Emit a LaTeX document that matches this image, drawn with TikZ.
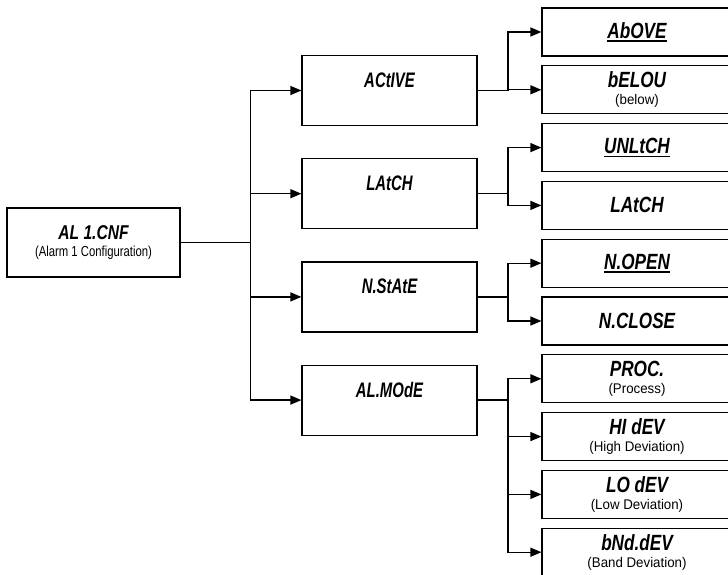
\documentclass[tikz,border=0pt]{standalone}
\usepackage{fontspec}
\setmainfont{Liberation Sans}
\newfontfamily\narrowfont[FakeStretch=0.78]{Liberation Sans}
\newfontfamily\menufont[FakeStretch=0.71]{Liberation Sans}
\newfontfamily\notefont[FakeStretch=0.95]{Liberation Sans}
\usetikzlibrary{positioning, arrows.meta}

\newcommand{\rootttl}[1]{{\narrowfont\fontsize{20}{20}\selectfont\bfseries\itshape #1}}
\newcommand{\ttl}[1]{{\narrowfont\fontsize{22}{22}\selectfont\bfseries\itshape #1}}
\newcommand{\dflt}[1]{\leavevmode\vtop{\hbox{#1}\kern2pt\hrule height 1.2pt}}

\begin{document}
\begin{tikzpicture}[
    x=1pt, y=-1pt,
    >={Triangle[length=11pt, width=9pt]},
    root/.style={draw, line width=1.2pt, minimum width=173pt, minimum height=69pt, inner sep=0pt, align=center,
        font=\narrowfont\fontsize{14.5}{17.6}\selectfont},
    menu/.style={draw, line width=1.2pt, minimum width=175pt, minimum height=70pt, inner sep=0pt, align=center,
        font=\menufont\fontsize{21}{21}\selectfont\bfseries\itshape, text height=14pt, text depth=20pt},
    option/.style={draw, line width=1.2pt, minimum width=190pt, minimum height=48pt, inner sep=0pt, align=center,
        font=\notefont\fontsize{14}{17}\selectfont},
    link/.style={line width=1.3pt}
]
    \useasboundingbox (0,0) rectangle (728,575);
    \clip (0,0) rectangle (728,575);

    % --- CONFIGURATION ROOT ---
    \node[root] (al_cnf) at (93.5,242.5) {\rootttl{AL 1.CNF}\\(Alarm 1 Configuration)};

    % --- SUB-MENUS ---
    \node[menu] (active) at (389.5,90.5) {ACtIVE};
    \node[menu, below=32pt of active] (latch) {LAtCH};
    \node[menu, below=32pt of latch] (n_state) {N.StAtE};
    \node[menu, below=32pt of n_state] (al_mode) {AL.MOdE};

    % --- OPTIONS (default underlined) ---
    \node[option] (opt_above) at (637,32) {\ttl{\dflt{AbOVE}}};
    \node[option, below=8.6pt of opt_above] (opt_below) {\ttl{bELOU}\\(below)};
    \node[option, below=8.6pt of opt_below] (opt_unlatch) {\ttl{\dflt{UNLtCH}}};
    \node[option, below=8.6pt of opt_unlatch] (opt_latch) {\ttl{LAtCH}};
    \node[option, below=8.6pt of opt_latch] (opt_nopen) {\ttl{\dflt{N.OPEN}}};
    \node[option, below=8.6pt of opt_nopen] (opt_nclose) {\ttl{N.CLOSE}};
    \node[option, below=8.6pt of opt_nclose] (opt_proc) {\ttl{PROC.}\\(Process)};
    \node[option, below=8.6pt of opt_proc] (opt_hidev) {\ttl{HI dEV}\\(High Deviation)};
    \node[option, below=8.6pt of opt_hidev] (opt_lodev) {\ttl{LO dEV}\\(Low Deviation)};
    \node[option, below=8.6pt of opt_lodev] (opt_bnddev) {\ttl{bNd.dEV}\\(Band Deviation)};

    % Fork points
    \coordinate[right=70pt of al_cnf.east] (trunk);
    \coordinate[right=30.5pt of active.east] (active_fork);
    \coordinate[right=30.5pt of latch.east] (latch_fork);
    \coordinate[right=30.5pt of n_state.east] (n_state_fork);
    \coordinate[right=30.5pt of al_mode.east] (al_mode_fork);

    % --- ROOT TO SUB-MENUS ---
    \draw[link] (al_cnf.east) -- (trunk);
    \draw[link, ->] (trunk) |- (active.west);
    \draw[link, ->] (trunk) |- (latch.west);
    \draw[link, ->] (trunk) |- (n_state.west);
    \draw[link, ->] (trunk) |- (al_mode.west);

    % --- SUB-MENUS TO OPTIONS ---
    \draw[link] (active.east) -- (active_fork);
    \draw[link, ->] (active_fork) |- (opt_above.west);
    \draw[link, ->] (active_fork) |- (opt_below.west);

    \draw[link] (latch.east) -- (latch_fork);
    \draw[link, ->] (latch_fork) |- (opt_unlatch.west);
    \draw[link, ->] (latch_fork) |- (opt_latch.west);

    \draw[link] (n_state.east) -- (n_state_fork);
    \draw[link, ->] (n_state_fork) |- (opt_nopen.west);
    \draw[link, ->] (n_state_fork) |- (opt_nclose.west);

    \draw[link] (al_mode.east) -- (al_mode_fork);
    \draw[link, ->] (al_mode_fork) |- (opt_proc.west);
    \draw[link, ->] (al_mode_fork) |- (opt_hidev.west);
    \draw[link, ->] (al_mode_fork) |- (opt_lodev.west);
    \draw[link, ->] (al_mode_fork) |- (opt_bnddev.west);

\end{tikzpicture}
\end{document}
